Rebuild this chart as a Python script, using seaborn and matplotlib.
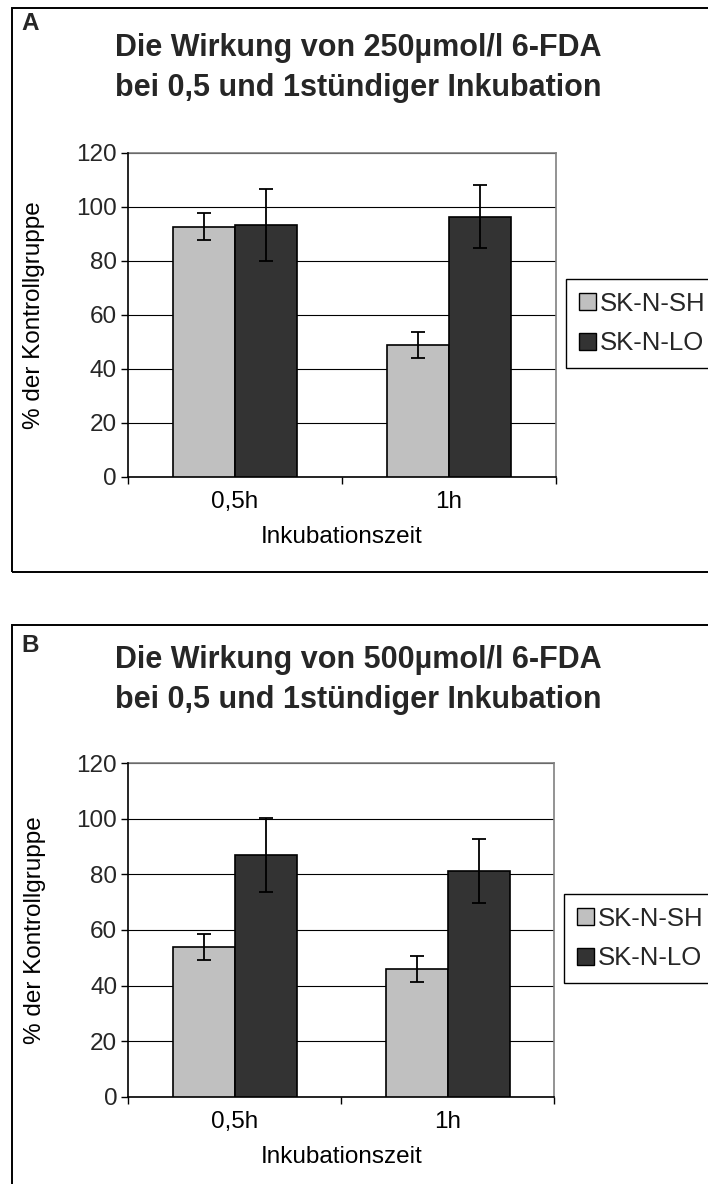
import matplotlib
matplotlib.use("Agg")
import matplotlib.pyplot as plt
import seaborn as sns
import pandas as pd
from matplotlib.patches import Rectangle

sns.set_theme(style="white")
plt.rcParams['font.family'] = ['Liberation Sans', 'DejaVu Sans']

categories = ["0,5h", "1h"]
series = ["SK-N-SH", "SK-N-LO"]
colors = ["#C0C0C0", "#333333"]

a_sh = [92.6, 48.8]
a_lo = [93.2, 96.3]
a_sh_err = [4.9, 4.7]
a_lo_err = [13.3, 11.6]

b_sh = [53.9, 46.0]
b_lo = [87.0, 81.2]
b_sh_err = [4.6, 4.6]
b_lo_err = [13.3, 11.5]

yticks = [0, 20, 40, 60, 80, 100, 120]

titles = ["Die Wirkung von 250µmol/l 6-FDA\nbei 0,5 und 1stündiger Inkubation",
          "Die Wirkung von 500µmol/l 6-FDA\nbei 0,5 und 1stündiger Inkubation"]
letters = ["A", "B"]
ylabel = "% der Kontrollgruppe"
xlabel = "Inkubationszeit"

W, H = 708, 1184
fig = plt.figure(figsize=(W / 100, H / 100), dpi=100)
fig.patch.set_facecolor("white")

def fx(px):
    return px / W

def fy(py):
    return 1 - py / H

FS = 17.5

panels = [
    dict(sh=a_sh, lo=a_lo, she=a_sh_err, loe=a_lo_err,
         ax=(127.7, 152.7, 555.7, 476.7), frame=(12, 8, 720, 572),
         letter_y=23, title_y=68, legend=(566, 279)),
    dict(sh=b_sh, lo=b_lo, she=b_sh_err, loe=b_lo_err,
         ax=(128.3, 763.3, 554.3, 1096.7), frame=(12, 625, 720, 1195),
         letter_y=646, title_y=680, legend=(564, 894)),
]

for i, p in enumerate(panels):
    fl, ft, fr, fb = p["frame"]
    fig.patches.append(Rectangle((fx(fl), fy(fb)), fx(fr - fl), (fb - ft) / H,
                                 transform=fig.transFigure, fill=False,
                                 edgecolor="black", linewidth=1.4, zorder=0))
    fig.text(fx(21), fy(p["letter_y"]), letters[i], fontsize=17.5, fontweight="bold",
             ha="left", va="center")
    fig.text(fx(358), fy(p["title_y"]), titles[i], fontsize=22, fontweight="bold",
             ha="center", va="center", linespacing=1.45)

    l, t, r, b = p["ax"]
    ax = fig.add_axes([fx(l), fy(b), fx(r - l), (b - t) / H])
    df = pd.DataFrame({
        "cat": categories * 2,
        "series": [series[0]] * 2 + [series[1]] * 2,
        "val": p["sh"] + p["lo"],
    })
    sns.barplot(data=df, x="cat", y="val", hue="series", hue_order=series,
                order=categories, palette=colors, width=0.58, gap=0,
                edgecolor="black", linewidth=1.2, errorbar=None, ax=ax,
                saturation=1, zorder=3)
    errs = [p["she"], p["loe"]]
    vals = [p["sh"], p["lo"]]
    bar_conts = list(ax.containers)
    for k, cont in enumerate(bar_conts):
        xs = [bar.get_x() + bar.get_width() / 2 for bar in cont]
        ax.errorbar(xs, vals[k], yerr=errs[k], fmt="none", ecolor="black",
                    elinewidth=1.3, capsize=4.7, capthick=1.3, zorder=4)

    ax.set_xlim(-0.5, 1.5)
    ax.set_ylim(0, 120)
    ax.set_yticks(yticks)
    ax.set_yticklabels([str(v) for v in yticks])
    ax.yaxis.grid(True, color="black", linewidth=0.8, zorder=0)
    ax.set_axisbelow(True)
    ax.set_xticks([0, 1])
    ax.set_xticklabels(categories)
    ax.set_xticks([-0.5, 0.5, 1.5], minor=True)
    ax.tick_params(axis="x", which="major", length=0, pad=10, labelsize=FS, colors="black")
    ax.tick_params(axis="x", which="minor", length=5, width=1, color="black",
                   direction="out", bottom=True)
    ax.tick_params(axis="y", length=5, width=1, color="black", direction="out",
                   labelsize=FS, pad=3, left=True)
    ax.set_xlabel(xlabel, fontsize=FS, labelpad=10, color="black")
    ax.set_ylabel(ylabel, fontsize=FS, labelpad=22, color="black")
    for s in ["left", "bottom"]:
        ax.spines[s].set_color("black")
        ax.spines[s].set_linewidth(1.2)
    for s in ["top", "right"]:
        ax.spines[s].set_color("#808080")
        ax.spines[s].set_linewidth(1.2)
    ax.spines["left"].set_zorder(5)

    if ax.get_legend() is not None:
        ax.get_legend().remove()
    handles = [Rectangle((0, 0), 1, 1, facecolor=c, edgecolor="black", linewidth=1)
               for c in colors]
    lx, ly = p["legend"]
    leg = fig.legend(handles, series, loc="upper left",
                     bbox_to_anchor=(fx(lx), fy(ly)), bbox_transform=fig.transFigure,
                     fontsize=18.5, frameon=True, fancybox=False, framealpha=1,
                     edgecolor="black", handlelength=0.65, handleheight=0.65,
                     handletextpad=0.15, labelspacing=0.6, borderpad=0.5,
                     borderaxespad=0)
    leg.get_frame().set_linewidth(1.0)

fig.savefig("out.png", dpi=100, facecolor="white")
